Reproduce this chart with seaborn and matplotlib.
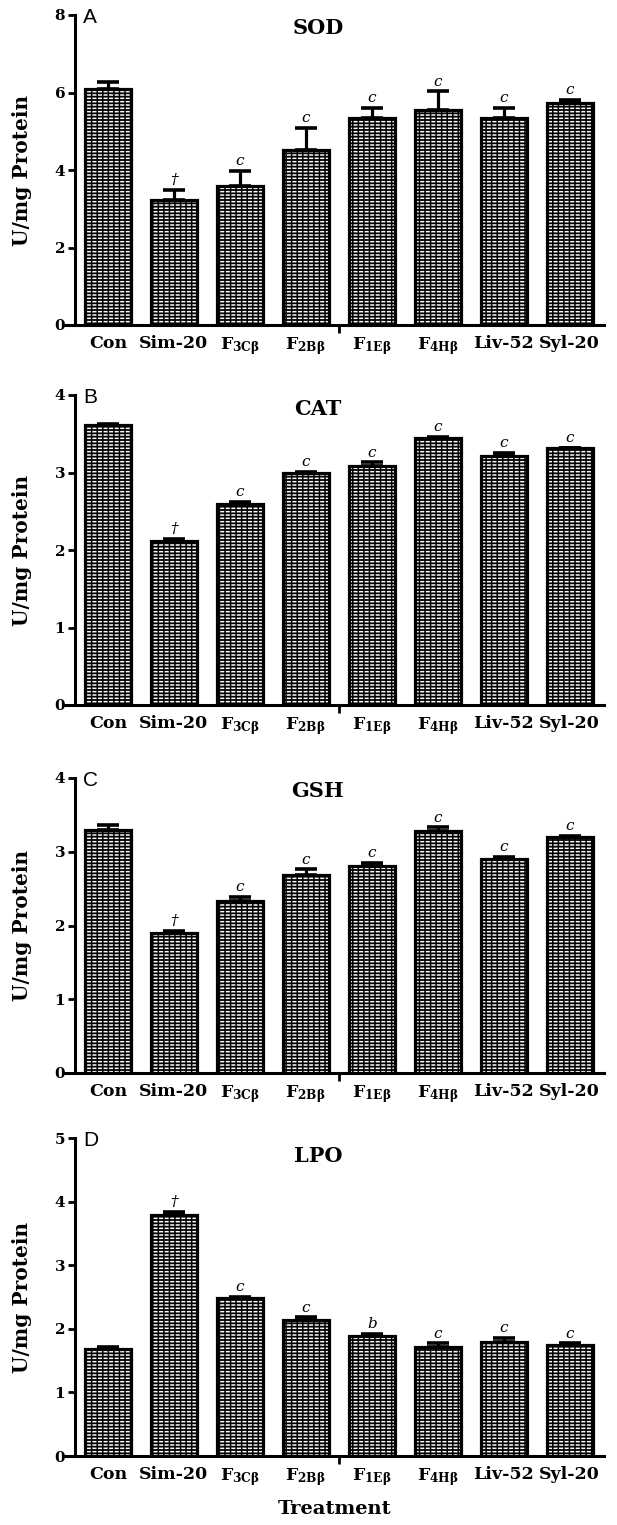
"""
Antioxidant enzyme panels (SOD, CAT, GSH, LPO) as hatched bar charts
"""

import matplotlib

matplotlib.use("Agg")
import matplotlib.pyplot as plt
import numpy as np
import seaborn as sns
from matplotlib.ticker import FixedLocator

# categories and tick labels
groups = ["Con", "Sim-20", "F3Cβ", "F2Bβ", "F1Eβ", "F4Hβ", "Liv-52", "Syl-20"]
tick_labels = [
    "Con",
    "Sim-20",
    r"F$_{\mathrm{3Cβ}}$",
    r"F$_{\mathrm{2Bβ}}$",
    r"F$_{\mathrm{1Eβ}}$",
    r"F$_{\mathrm{4Hβ}}$",
    "Liv-52",
    "Syl-20",
]

# values (mean, upper error)
sod_mean = [6.10, 3.22, 3.60, 4.52, 5.33, 5.55, 5.33, 5.72]
sod_err = [0.17, 0.27, 0.37, 0.56, 0.28, 0.48, 0.28, 0.08]
sod_marks = ["", "†", "c", "c", "c", "c", "c", "c"]

cat_mean = [3.61, 2.11, 2.59, 2.99, 3.09, 3.44, 3.21, 3.31]
cat_err = [0.01, 0.03, 0.03, 0.02, 0.04, 0.02, 0.04, 0.01]
cat_marks = ["", "†", "c", "c", "c", "c", "c", "c"]

gsh_mean = [3.30, 1.90, 2.33, 2.69, 2.81, 3.28, 2.90, 3.20]
gsh_err = [0.06, 0.03, 0.06, 0.07, 0.04, 0.05, 0.03, 0.02]
gsh_marks = ["", "†", "c", "c", "c", "c", "c", "c"]

lpo_mean = [1.69, 3.79, 2.48, 2.14, 1.88, 1.72, 1.80, 1.74]
lpo_err = [0.02, 0.05, 0.02, 0.04, 0.04, 0.05, 0.06, 0.03]
lpo_marks = ["", "†", "c", "c", "b", "c", "c", "c"]

titles = ["SOD", "CAT", "GSH", "LPO"]
letters = ["A", "B", "C", "D"]
y_max = [8, 4, 4, 5]
y_step = [2, 1, 1, 1]

sns.set_theme(style="ticks")
plt.rcParams["font.family"] = ["DejaVu Serif"]
plt.rcParams["font.weight"] = "bold"
plt.rcParams["text.color"] = "black"
plt.rcParams["axes.labelcolor"] = "black"
plt.rcParams["xtick.color"] = "black"
plt.rcParams["ytick.color"] = "black"
plt.rcParams["axes.edgecolor"] = "black"
plt.rcParams["mathtext.fontset"] = "custom"
plt.rcParams["mathtext.rm"] = "DejaVu Serif:bold"
plt.rcParams["mathtext.it"] = "DejaVu Serif:italic:bold"
plt.rcParams["hatch.linewidth"] = 1.1

W, H = 617, 1525
fig = plt.figure(figsize=(W / 100, H / 100), dpi=100)

# axes boxes in pixels: (top, bottom)
boxes = [(15, 325), (395, 705), (778, 1073), (1138, 1456)]
title_y = [28, 409, 791, 1156]
left_px, right_px = 65, 604

panels = [
    (sod_mean, sod_err, sod_marks),
    (cat_mean, cat_err, cat_marks),
    (gsh_mean, gsh_err, gsh_marks),
    (lpo_mean, lpo_err, lpo_marks),
]

for i, (means, errs, marks) in enumerate(panels):
    top, bottom = boxes[i]
    ax = fig.add_axes([left_px / W, 1 - bottom / H, (right_px - left_px) / W, (bottom - top) / H])

    # dark fill with white horizontal hatch
    sns.barplot(x=groups, y=means, order=groups, color="black", width=0.7,
                saturation=1, errorbar=None, ax=ax)
    n_first = len(ax.patches)
    for p in ax.patches:
        p.set_hatch("-----")
        p.set_edgecolor("white")
        p.set_linewidth(0)

    # black outline + vertical black hatch to break lines into bricks
    sns.barplot(x=groups, y=means, order=groups, color="black", width=0.7,
                fill=False, saturation=1, errorbar=None, ax=ax)
    for p in ax.patches[n_first:]:
        p.set_hatch("|||")
        p.set_edgecolor("black")
        p.set_linewidth(2.3)
        p.set_facecolor("none")

    pos = np.arange(len(groups))
    ax.errorbar(pos, means, yerr=[np.zeros(len(errs)), errs], fmt="none",
                ecolor="black", elinewidth=2.3, capsize=8, capthick=2.6, zorder=5)

    for x, m, e, mk in zip(pos, means, errs, marks):
        if mk:
            ax.annotate(mk, (x, m + e), xytext=(0, 2), textcoords="offset points",
                        ha="center", va="bottom", fontsize=11, style="italic",
                        fontweight="normal", color="black")

    ax.set_xlim(-0.65, 7.52)
    ax.set_ylim(0, y_max[i])
    ticks = np.arange(0, y_max[i] + 0.01, y_step[i])
    ax.set_yticks(ticks)
    ax.set_yticklabels([str(int(v)) for v in ticks], fontsize=12, fontweight="bold")
    ax.set_xticks(pos)
    ax.set_xticklabels(tick_labels, fontsize=12.5, fontweight="bold")
    ax.xaxis.set_minor_locator(FixedLocator([3.5]))
    ax.tick_params(axis="x", which="major", length=0, pad=7)
    ax.tick_params(axis="x", which="minor", length=6, width=2, direction="out")
    ax.tick_params(axis="y", length=5, width=2, direction="out", pad=2)

    ax.spines["left"].set_position(("data", -0.5))
    ax.spines["left"].set_linewidth(2.2)
    ax.spines["bottom"].set_linewidth(2.2)
    ax.spines["top"].set_visible(False)
    ax.spines["right"].set_visible(False)

    ax.set_ylabel("U/mg Protein", fontsize=14.5, fontweight="bold")
    ax.yaxis.set_label_coords((32 - left_px) / (right_px - left_px), 0.5)

    fig.text(318 / W, 1 - title_y[i] / H, titles[i], ha="center", va="center",
             fontsize=15, fontweight="bold")
    fig.text(83 / W, 1 - (top - 7) / H, letters[i], ha="left", va="top",
             fontsize=15, fontweight="normal", family="Liberation Sans")

    if i == 3:
        ax.set_xlabel("Treatment", fontsize=14, fontweight="bold", labelpad=9)
    else:
        ax.set_xlabel("")

fig.savefig("out.png", dpi=100)
